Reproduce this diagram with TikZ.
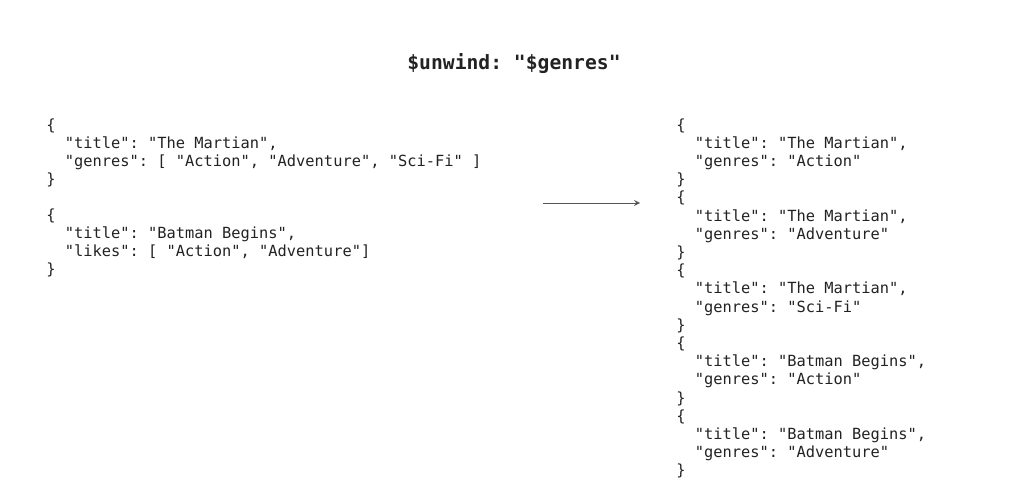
\documentclass[tikz,border=0pt]{standalone}
\usepackage{fontspec}
\setmonofont{DejaVu Sans Mono}
\usepackage{xcolor}
\usepackage{tikz}
\definecolor{codetext}{HTML}{222222}
\definecolor{arrowgray}{HTML}{555555}
\newcommand{\ind}{\phantom{xx}}

\begin{document}
\begin{tikzpicture}[x=0.02cm, y=-0.02cm,
    doc/.style={anchor=north west, align=left, inner sep=0pt, text=codetext,
        font=\ttfamily\fontsize{8.75}{10.36}\selectfont},
    heading/.style={text=codetext, font=\ttfamily\bfseries\fontsize{11.2}{13}\selectfont}]
    % Frame
    \useasboundingbox (0,0) rectangle (1013,503);

    % Stage heading
    \node[heading] (stage) at (514,64) {\$unwind: "\$genres"};

    % Input documents
    \node[doc] (inMartian) at (46,118) {\{\\\ind"title": "The Martian",\\\ind"genres": [ "Action", "Adventure", "Sci-Fi" ]\\\}};
    \node[doc] (inBatman) at (46,208) {\{\\\ind"title": "Batman Begins",\\\ind"likes": [ "Action", "Adventure"]\\\}};

    % Arrow
    \coordinate (arrFrom) at (543,203);
    \coordinate (arrTo) at (640,203);
    \draw[arrowgray, line width=0.5pt, -stealth] (arrFrom) -- (arrTo);

    % Output documents
    \node[doc] (outA) at (676,118) {\{\\\ind"title": "The Martian",\\\ind"genres": "Action"\\\}};
    \node[doc] (outB) at (676,190.8) {\{\\\ind"title": "The Martian",\\\ind"genres": "Adventure"\\\}};
    \node[doc] (outC) at (676,263.6) {\{\\\ind"title": "The Martian",\\\ind"genres": "Sci-Fi"\\\}};
    \node[doc] (outD) at (676,336.4) {\{\\\ind"title": "Batman Begins",\\\ind"genres": "Action"\\\}};
    \node[doc] (outE) at (676,409.2) {\{\\\ind"title": "Batman Begins",\\\ind"genres": "Adventure"\\\}};
\end{tikzpicture}
\end{document}
